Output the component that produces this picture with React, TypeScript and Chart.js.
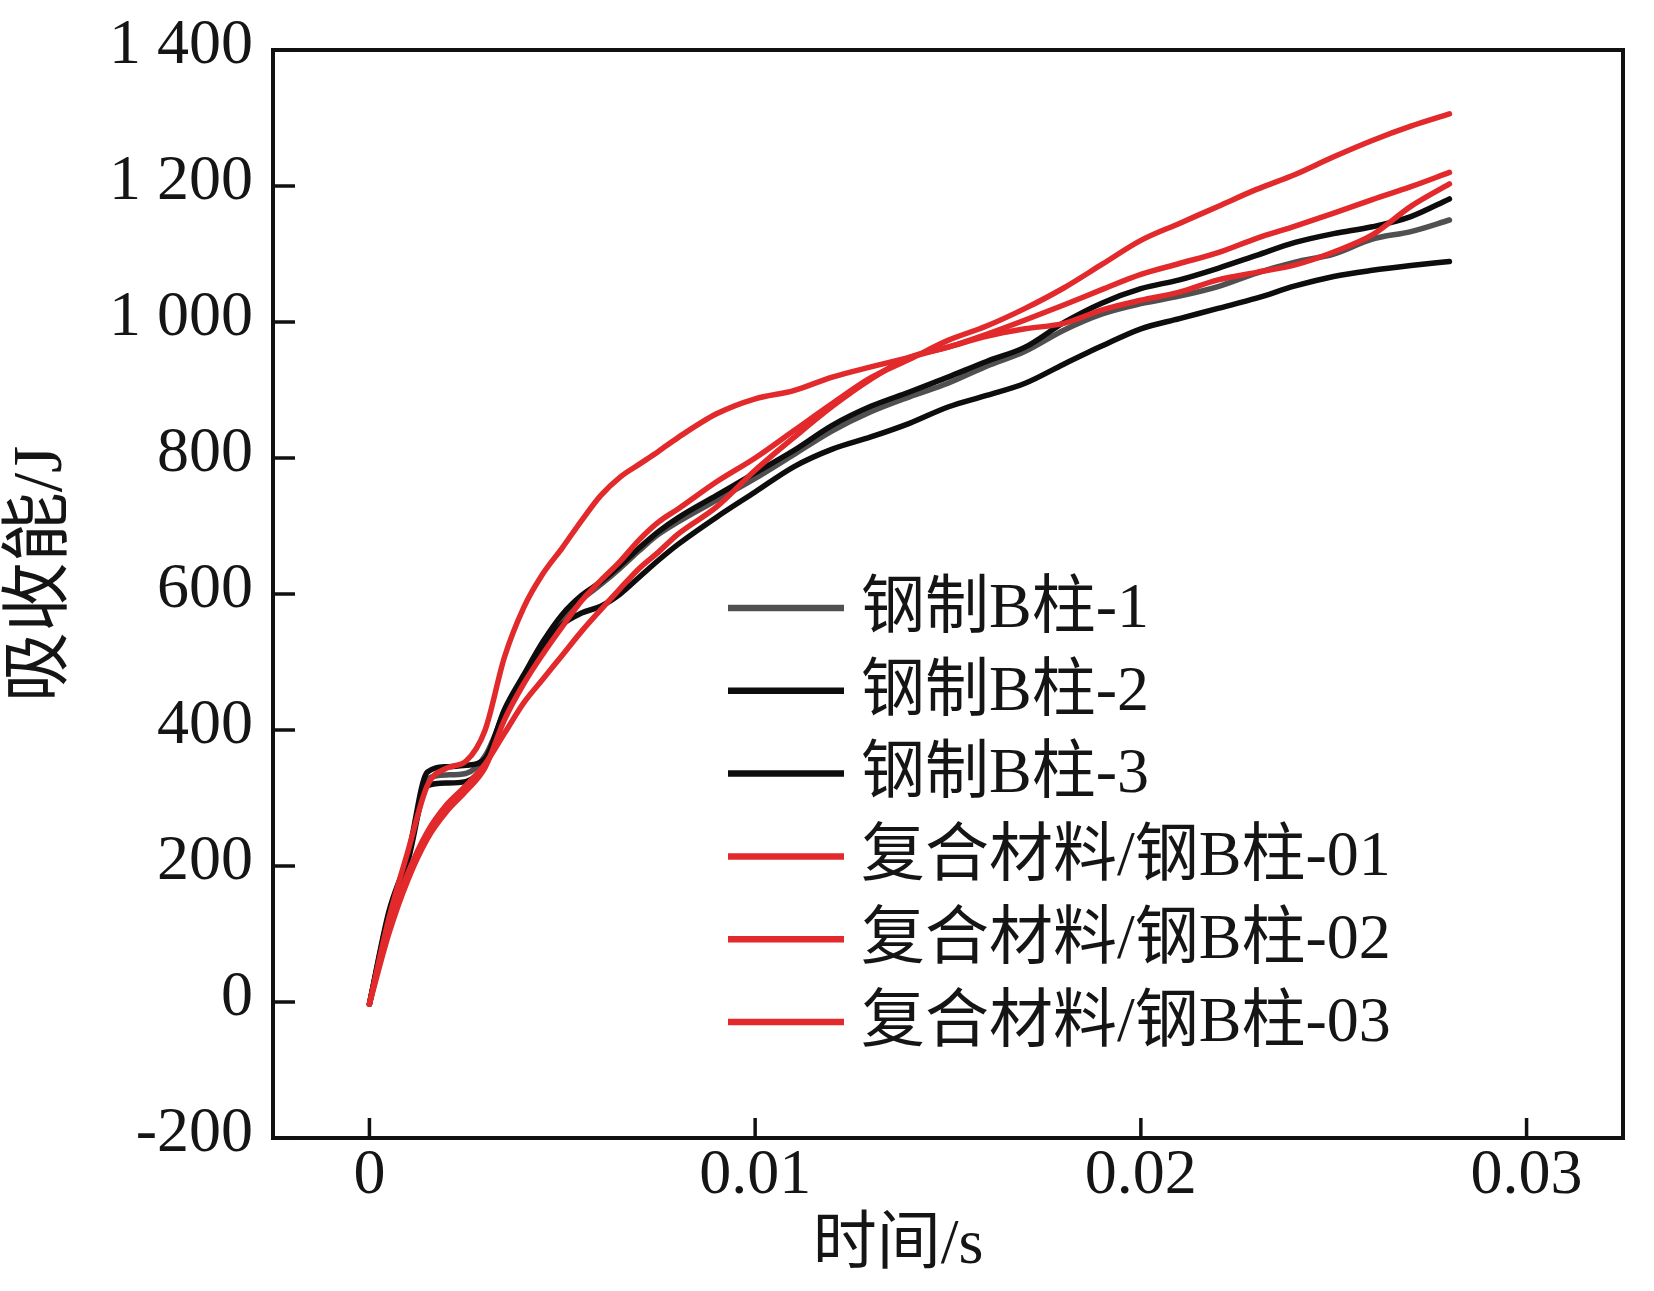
import React, { useEffect, useRef } from 'react';
import { Chart, registerables } from 'chart.js';

Chart.register(...registerables);

// time axis (s)
const time = [
  0, 0.0005, 0.001, 0.0015, 0.002, 0.0025, 0.003, 0.0035, 0.004, 0.0045,
  0.005, 0.0055, 0.006, 0.0065, 0.007, 0.0075, 0.008, 0.009, 0.01, 0.011,
  0.012, 0.013, 0.014, 0.015, 0.016, 0.017, 0.018, 0.019, 0.02, 0.021,
  0.022, 0.023, 0.024, 0.025, 0.026, 0.027, 0.028,
];

// absorbed energy (J)
const steel1 = [
  -3, 128, 212, 328, 334, 336, 362, 425, 476, 524,
  563, 592, 614, 638, 664, 688, 706, 738, 770, 805,
  840, 868, 890, 910, 935, 957, 988, 1012, 1027, 1038,
  1052, 1072, 1088, 1100, 1122, 1133, 1150,
];
const steel2 = [
  -3, 132, 216, 338, 346, 348, 358, 430, 481, 530,
  570, 598, 618, 642, 668, 692, 712, 745, 778, 811,
  848, 876, 897, 919, 942, 963, 999, 1028, 1049, 1062,
  1079, 1098, 1117, 1130, 1140, 1155, 1181,
];
const steel3 = [
  -3, 124, 208, 318, 322, 324, 352, 428, 478, 522,
  555, 572, 582, 600, 625, 650, 673, 713, 750, 787,
  813, 831, 851, 875, 892, 910, 938, 965, 990, 1005,
  1020, 1035, 1053, 1067, 1076, 1083, 1089,
];
const composite01 = [
  -3, 122, 222, 318, 344, 354, 400, 507, 580, 630,
  668, 708, 745, 772, 791, 810, 830, 865, 887, 899,
  919, 934, 948, 963, 979, 990, 998, 1018, 1032, 1044,
  1062, 1073, 1084, 1103, 1128, 1170, 1203,
];
const composite02 = [
  -3, 100, 180, 240, 280, 310, 345, 415, 468, 512,
  552, 590, 620, 648, 680, 706, 725, 765, 800, 840,
  880, 918, 945, 973, 994, 1020, 1050, 1085, 1120, 1145,
  1170, 1195, 1217, 1243, 1267, 1288, 1306,
];
const composite03 = [
  -3, 110, 190, 250, 290, 318, 350, 395, 440, 475,
  510, 545, 577, 608, 638, 662, 688, 728, 782, 830,
  876, 916, 948, 963, 982, 1003, 1025, 1048, 1070, 1086,
  1102, 1123, 1141, 1160, 1180, 1199, 1220,
];

const seriesNames = [
  '钢制B柱-1',
  '钢制B柱-2',
  '钢制B柱-3',
  '复合材料/钢B柱-01',
  '复合材料/钢B柱-02',
  '复合材料/钢B柱-03',
];
const seriesValues = [steel1, steel2, steel3, composite01, composite02, composite03];
const seriesColors = ['#505050', '#0d0d0d', '#0d0d0d', '#e2292b', '#e2292b', '#e2292b'];
const seriesOrder = [2, 1, 1, 0, 0, 0];

const xTickValues = [0, 0.01, 0.02, 0.03];
const xTickLabels = ['0', '0.01', '0.02', '0.03'];
const yTickValues = [-200, 0, 200, 400, 600, 800, 1000, 1200, 1400];
const yTickLabels = ['-200', '0', '200', '400', '600', '800', '1 000', '1 200', '1 400'];

const xTitle = '时间/s';
const yTitle = '吸收能/J';

const FONT_FAMILY = '"Liberation Serif", "Times New Roman", "Noto Sans CJK SC", serif';
const TEXT_COLOR = '#151515';

const frameTicksPlugin = {
  id: 'frameTicks',
  afterDraw(chart: any) {
    const { ctx, chartArea } = chart;
    const { left, right, top, bottom } = chartArea;
    ctx.save();
    ctx.strokeStyle = '#111';
    ctx.lineWidth = 4;
    ctx.strokeRect(left, top, right - left, bottom - top);
    ctx.lineWidth = 3.5;
    const ys = chart.scales.y;
    ys.ticks.forEach((t: any) => {
      const py = ys.getPixelForValue(t.value);
      ctx.beginPath();
      ctx.moveTo(left, py);
      ctx.lineTo(left + 22, py);
      ctx.stroke();
    });
    const xs = chart.scales.x;
    xs.ticks.forEach((t: any) => {
      const px = xs.getPixelForValue(t.value);
      ctx.beginPath();
      ctx.moveTo(px, bottom);
      ctx.lineTo(px, bottom - 20);
      ctx.stroke();
    });
    ctx.restore();
  },
};

const titlesPlugin = {
  id: 'axisTitles',
  afterDraw(chart: any) {
    const { ctx, chartArea } = chart;
    const { left, right, top, bottom } = chartArea;
    ctx.save();
    ctx.fillStyle = TEXT_COLOR;
    ctx.font = `64px ${FONT_FAMILY}`;
    ctx.textAlign = 'center';
    ctx.textBaseline = 'middle';
    ctx.fillText(xTitle, (left + right) / 2 - 50, bottom + 108);
    ctx.font = `70px ${FONT_FAMILY}`;
    ctx.translate(left - 230, (top + bottom) / 2 - 20);
    ctx.rotate(-Math.PI / 2);
    ctx.fillText(yTitle, 0, 0);
    ctx.restore();
  },
};

const insideLegendPlugin = {
  id: 'insideLegend',
  afterDraw(chart: any) {
    const { ctx, chartArea } = chart;
    const x0 = chartArea.left + 455;
    const x1 = chartArea.left + 571;
    const xt = chartArea.left + 588;
    const y0 = chartArea.top + 558;
    const pitch = 82.8;
    ctx.save();
    ctx.font = `64px ${FONT_FAMILY}`;
    ctx.textAlign = 'left';
    ctx.textBaseline = 'middle';
    chart.data.datasets.forEach((ds: any, i: number) => {
      const y = y0 + i * pitch;
      ctx.strokeStyle = ds.borderColor;
      ctx.lineWidth = 6.5;
      ctx.lineCap = 'butt';
      ctx.beginPath();
      ctx.moveTo(x0, y);
      ctx.lineTo(x1, y);
      ctx.stroke();
      ctx.fillStyle = TEXT_COLOR;
      ctx.fillText(ds.label, xt, y + 2);
    });
    ctx.restore();
  },
};

export default function App() {
  const ref = useRef<HTMLCanvasElement>(null);

  useEffect(() => {
    document.body.style.margin = '0';
    const canvas = ref.current;
    if (!canvas) return;
    const chart = new Chart(canvas, {
      type: 'line',
      data: {
        datasets: seriesNames.map((name, i) => ({
          label: name,
          data: time.map((t, j) => ({ x: t, y: seriesValues[i][j] })),
          borderColor: seriesColors[i],
          backgroundColor: seriesColors[i],
          borderWidth: 5.5,
          pointRadius: 0,
          pointHoverRadius: 0,
          fill: false,
          cubicInterpolationMode: 'monotone',
          borderJoinStyle: 'round',
          borderCapStyle: 'round',
          order: seriesOrder[i],
        })),
      },
      options: {
        responsive: false,
        animation: false,
        devicePixelRatio: 1,
        layout: { padding: { top: 50, right: 31, left: 0, bottom: 0 } },
        plugins: {
          legend: { display: false },
          tooltip: { enabled: false },
        },
        scales: {
          x: {
            type: 'linear',
            min: -0.0025,
            max: 0.0325,
            afterBuildTicks: (s: any) => {
              s.ticks = xTickValues.map((v) => ({ value: v }));
            },
            afterFit: (s: any) => {
              s.height = 153;
              s.paddingLeft = 0;
              s.paddingRight = 0;
            },
            grid: { display: false, drawTicks: false },
            border: { display: false },
            ticks: {
              autoSkip: false,
              maxRotation: 0,
              padding: 0,
              color: TEXT_COLOR,
              font: { family: FONT_FAMILY, size: 64 },
              callback: (_v: any, i: number) => xTickLabels[i],
            },
          },
          y: {
            type: 'linear',
            min: -200,
            max: 1400,
            afterBuildTicks: (s: any) => {
              s.ticks = yTickValues.map((v) => ({ value: v }));
            },
            afterFit: (s: any) => {
              s.width = 273;
              s.paddingTop = 0;
              s.paddingBottom = 0;
            },
            grid: { display: false, drawTicks: false },
            border: { display: false },
            ticks: {
              autoSkip: false,
              padding: 20,
              labelOffset: -4,
              color: TEXT_COLOR,
              font: { family: FONT_FAMILY, size: 64 },
              callback: (_v: any, i: number) => yTickLabels[i],
            },
          },
        },
      } as any,
      plugins: [frameTicksPlugin, titlesPlugin, insideLegendPlugin],
    });
    return () => chart.destroy();
  }, []);

  return (
    <div style={{ width: 1654, height: 1291, background: '#fff' }}>
      <canvas ref={ref} width={1654} height={1291} style={{ display: 'block', width: 1654, height: 1291 }} />
    </div>
  );
}
